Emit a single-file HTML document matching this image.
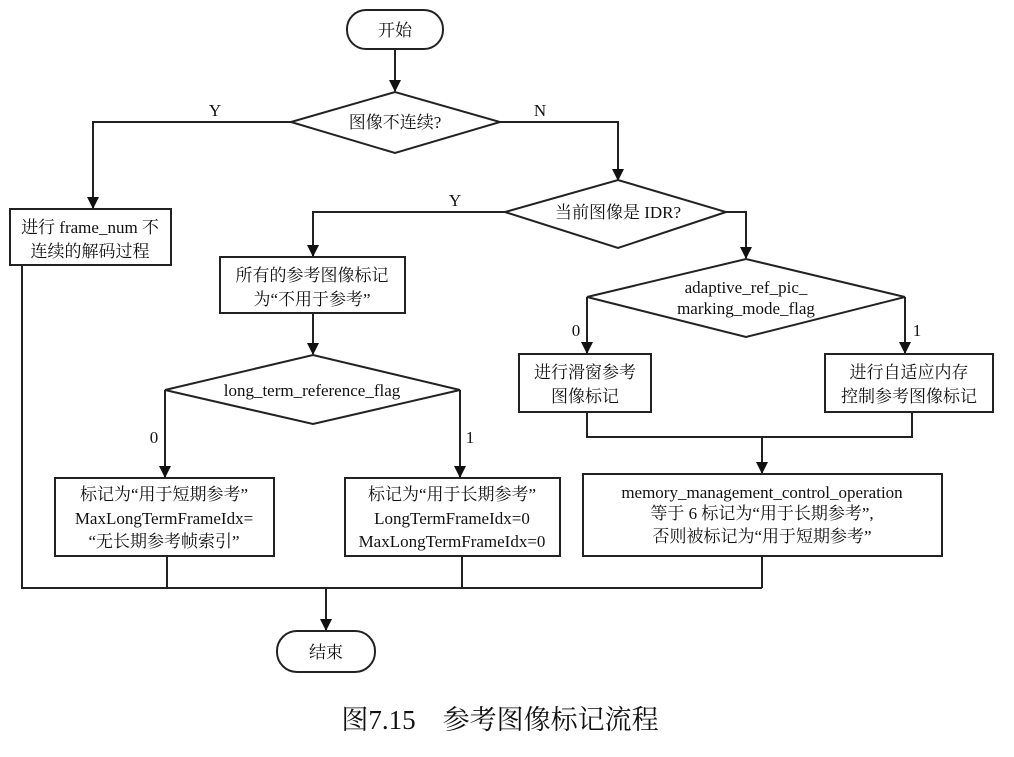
<!DOCTYPE html>
<html><head><meta charset="utf-8"><style>
html,body{margin:0;padding:0;background:#fff;}
svg text{font-family:"Liberation Serif","Noto Serif CJK SC",serif;font-size:17px;fill:#111;}
</style></head><body>
<svg width="1014" height="752" viewBox="0 0 1014 752" xmlns="http://www.w3.org/2000/svg">
<defs><marker id="a" markerWidth="12" markerHeight="12" refX="11" refY="6" orient="auto" markerUnits="userSpaceOnUse"><path d="M0,0 L12,6 L0,12 z" fill="#111"/></marker></defs>
<g stroke="#222" stroke-width="2" fill="none">
<rect x="347" y="10" width="96" height="39" rx="19"/>
<line x1="395" y1="49" x2="395" y2="91" marker-end="url(#a)"/>
<polygon points="291,122 395,92 500,122 395,153"/>
<polyline points="291,122 93,122 93,208" marker-end="url(#a)"/>
<rect x="10" y="209" width="161" height="56"/>
<polyline points="500,122 618,122 618,180" marker-end="url(#a)"/>
<polygon points="505,212 618,180 726,212 618,248"/>
<polyline points="505,212 313,212 313,256" marker-end="url(#a)"/>
<rect x="220" y="257" width="185" height="56"/>
<polyline points="726,212 746,212 746,258" marker-end="url(#a)"/>
<polygon points="587,297 746,259 905,297 746,337"/>
<polyline points="587,297 587,353" marker-end="url(#a)"/>
<polyline points="905,297 905,353" marker-end="url(#a)"/>
<rect x="519" y="354" width="132" height="58"/>
<rect x="825" y="354" width="168" height="58"/>
<polyline points="587,412 587,437 912,437 912,412"/>
<line x1="762" y1="437" x2="762" y2="473" marker-end="url(#a)"/>
<rect x="583" y="474" width="359" height="82"/>
<line x1="313" y1="313" x2="313" y2="354" marker-end="url(#a)"/>
<polygon points="165,390 313,355 460,390 313,424"/>
<polyline points="165,390 165,477" marker-end="url(#a)"/>
<polyline points="460,390 460,477" marker-end="url(#a)"/>
<rect x="55" y="478" width="219" height="78"/>
<rect x="345" y="478" width="215" height="78"/>
<polyline points="22,265 22,588 762,588"/>
<line x1="167" y1="556" x2="167" y2="588"/>
<line x1="462" y1="556" x2="462" y2="588"/>
<line x1="762" y1="556" x2="762" y2="588"/>
<line x1="326" y1="588" x2="326" y2="630" marker-end="url(#a)"/>
<rect x="277" y="631" width="98" height="41" rx="20"/>
</g>
<g text-anchor="middle">
<text x="395" y="36">开始</text>
<text x="395" y="128">图像不连续?</text>
<text x="215" y="116">Y</text>
<text x="540" y="116">N</text>
<text x="90" y="233">进行 frame_num 不</text>
<text x="90" y="257">连续的解码过程</text>
<text x="618" y="218">当前图像是 IDR?</text>
<text x="455" y="206">Y</text>
<text x="312" y="281">所有的参考图像标记</text>
<text x="312" y="305">为“不用于参考”</text>
<text x="746" y="293">adaptive_ref_pic_</text>
<text x="746" y="314">marking_mode_flag</text>
<text x="576" y="336">0</text>
<text x="917" y="336">1</text>
<text x="585" y="378">进行滑窗参考</text>
<text x="585" y="402">图像标记</text>
<text x="909" y="378">进行自适应内存</text>
<text x="909" y="402">控制参考图像标记</text>
<text x="762" y="498">memory_management_control_operation</text>
<text x="762" y="519">等于 6 标记为“用于长期参考”,</text>
<text x="762" y="542">否则被标记为“用于短期参考”</text>
<text x="312" y="396">long_term_reference_flag</text>
<text x="154" y="443">0</text>
<text x="470" y="443">1</text>
<text x="164" y="500">标记为“用于短期参考”</text>
<text x="164" y="524">MaxLongTermFrameIdx=</text>
<text x="164" y="547">“无长期参考帧索引”</text>
<text x="452" y="500">标记为“用于长期参考”</text>
<text x="452" y="524">LongTermFrameIdx=0</text>
<text x="452" y="547">MaxLongTermFrameIdx=0</text>
<text x="326" y="658">结束</text>
<text x="500" y="729" style="font-family:'Liberation Serif','Noto Serif CJK SC',serif;font-size:27px;">图7.15　参考图像标记流程</text>
</g>
</svg>
</body></html>
